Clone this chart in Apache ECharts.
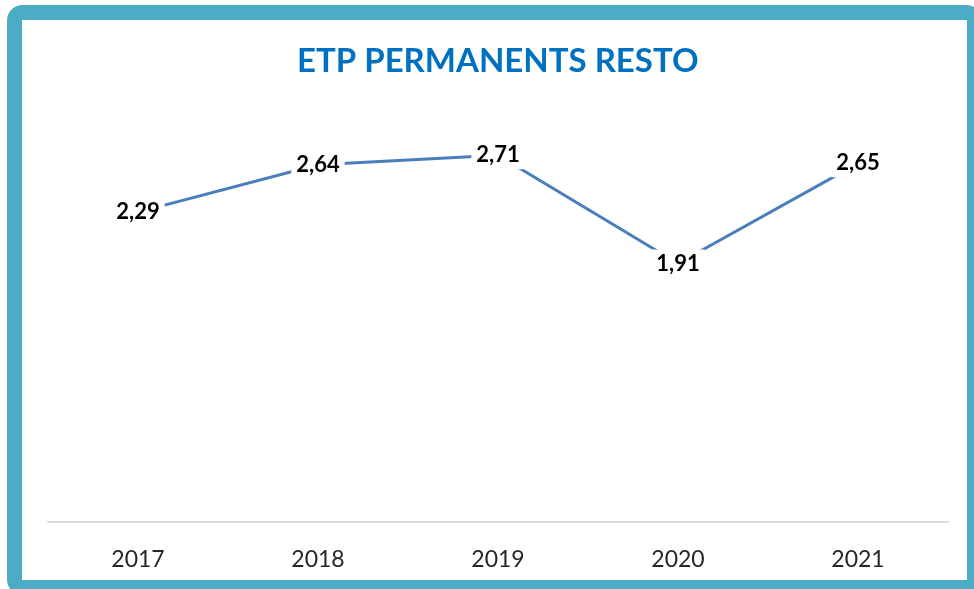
<!DOCTYPE html>
<html>
<head>
<meta charset="utf-8">
<script src="https://cdn.jsdelivr.net/npm/echarts@6/dist/echarts.min.js"></script>
<style>
  html, body { margin: 0; padding: 0; background: #fff; }
  #chart { width: 974px; height: 589px; }
</style>
</head>
<body>
<div id="chart"></div>
<script>
// données
const years = ['2017', '2018', '2019', '2020', '2021'];
const etpValues = [2.29, 2.64, 2.71, 1.91, 2.65];

const chart = echarts.init(document.getElementById('chart'));

const option = {
    animation: false,
    title: {
        text: 'ETP PERMANENTS RESTO',
        left: 292,
        top: 40,
        textStyle: {
            fontFamily: 'Lato',
            fontWeight: 'bold',
            fontSize: 33,
            color: '#0070C0'
        }
    },
    graphic: [
        {
            // cadre
            type: 'rect',
            shape: { x: 14.5, y: 12.5, width: 960, height: 575, r: 8 },
            style: { fill: 'none', stroke: '#4BACC6', lineWidth: 15 },
            z: 100
        }
    ],
    grid: { left: 48, right: 26, top: 116, bottom: 67 },
    xAxis: {
        type: 'category',
        data: years,
        boundaryGap: true,
        axisLine: { lineStyle: { color: '#d9d9d9', width: 2 } },
        axisTick: { show: false },
        axisLabel: {
            margin: 26,
            fontFamily: 'Lato',
            fontSize: 23,
            color: '#262626'
        }
    },
    yAxis: {
        type: 'value',
        min: 0,
        max: 3,
        show: false,
        splitLine: { show: false }
    },
    series: [
        {
            type: 'line',
            data: etpValues,
            symbol: 'circle',
            symbolSize: 0,
            lineStyle: { color: '#4A7EBB', width: 3 },
            label: {
                show: true,
                position: 'inside',
                formatter: p => String(p.value).replace('.', ','),
                fontFamily: 'Lato',
                fontWeight: 'bold',
                fontSize: 22,
                color: '#000',
                backgroundColor: '#fff',
                padding: [3, 5]
            }
        }
    ]
};

chart.setOption(option);
</script>
</body>
</html>
